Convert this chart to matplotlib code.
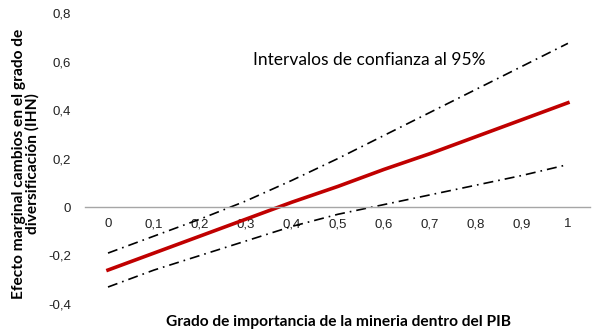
import numpy as np
import matplotlib.pyplot as plt

# grado de importancia de la mineria (x) and estimated effects
x = [0, 0.1, 0.2, 0.3, 0.4, 0.5, 0.6, 0.7, 0.8, 0.9, 1]
efecto = [-0.26, -0.19, -0.12, -0.05, 0.02, 0.085, 0.155, 0.22, 0.29, 0.36, 0.43]
ic_sup = [-0.19, -0.12, -0.05, 0.025, 0.11, 0.20, 0.295, 0.39, 0.485, 0.58, 0.675]
ic_inf = [-0.33, -0.26, -0.20, -0.14, -0.08, -0.03, 0.01, 0.05, 0.09, 0.13, 0.175]

xlabels = ['0', '0,1', '0,2', '0,3', '0,4', '0,5', '0,6', '0,7', '0,8', '0,9', '1']
yticks = [-0.4, -0.2, 0, 0.2, 0.4, 0.6, 0.8]
ylabels = ['-0,4', '-0,2', '0', '0,2', '0,4', '0,6', '0,8']

fig = plt.figure(figsize=(5.92, 3.31), dpi=100)
ax = fig.add_axes([0.1436, 0.0816, 0.853, 0.879])

ax.plot(x, ic_sup, color='black', lw=1.2, linestyle=(0, (6, 3, 1, 3)))
ax.plot(x, ic_inf, color='black', lw=1.2, linestyle=(0, (6, 3, 1, 3)))
ax.plot(x, efecto, color='#C00000', lw=2.6)

ax.set_xlim(-0.05, 1.048)
ax.set_ylim(-0.4, 0.8)

for s in ['top', 'right', 'left']:
    ax.spines[s].set_visible(False)
ax.spines['bottom'].set_position(('data', 0))
ax.spines['bottom'].set_color('#a6a6a6')
ax.spines['bottom'].set_linewidth(1.0)

ax.set_xticks(x)
ax.set_xticklabels(xlabels, fontsize=9.5, family='Liberation Sans', color='#222222')
ax.set_yticks(yticks)
ax.set_yticklabels(ylabels, fontsize=9.5, family='Liberation Sans', color='#222222')
ax.tick_params(axis='x', length=0, pad=8)
ax.tick_params(axis='y', length=0, pad=10)

ax.text(0.315, 0.605, 'Intervalos de confianza al 95%', fontsize=12.5,
        family='Lato', va='center', ha='left')

fig.text(0.571, 0.027, 'Grado de importancia de la mineria dentro del PIB',
         fontsize=11.2, fontweight='bold', family='Lato', ha='center', va='center')
fig.text(0.043, 0.505, 'Efecto marginal cambios en el grado de\ndiversificación (IHN)',
         fontsize=11.2, fontweight='bold', family='Lato', ha='center', va='center',
         rotation=90, linespacing=0.92)

fig.savefig('out.png', dpi=100)
